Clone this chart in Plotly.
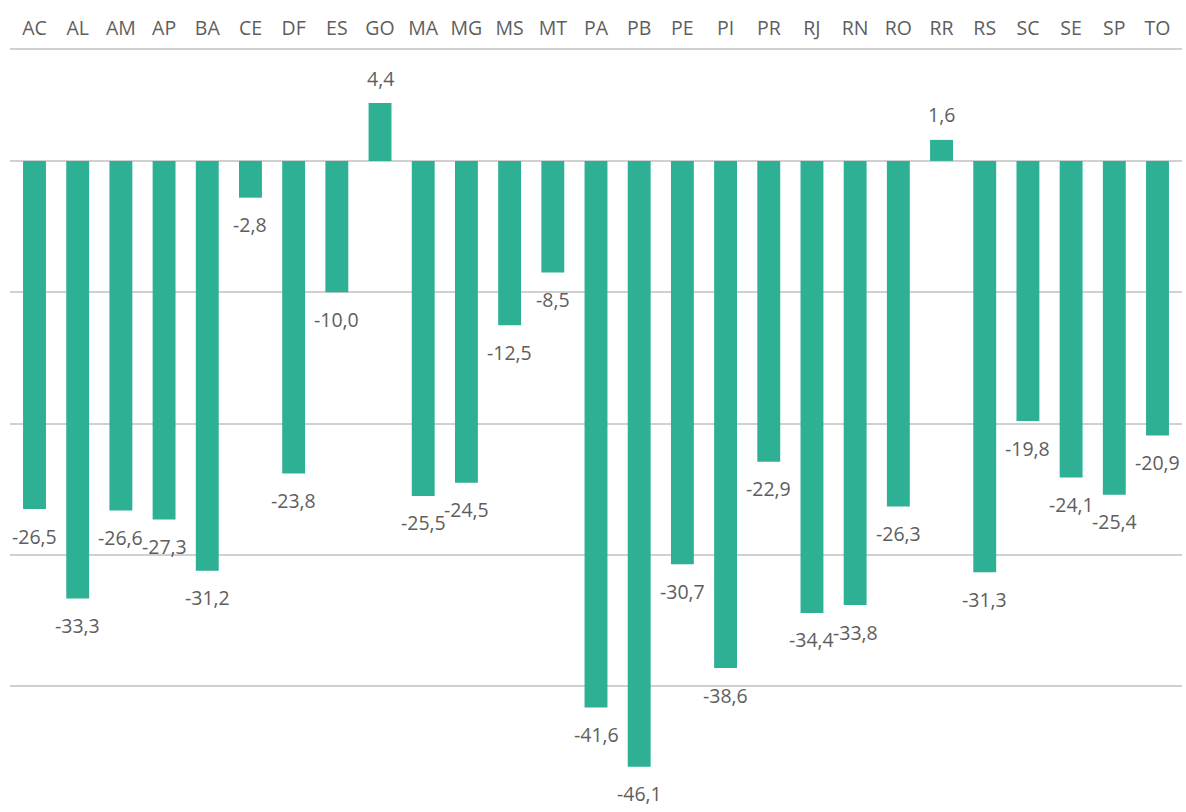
import plotly.graph_objects as go

states = ["AC", "AL", "AM", "AP", "BA", "CE", "DF", "ES", "GO", "MA", "MG", "MS", "MT", "PA",
          "PB", "PE", "PI", "PR", "RJ", "RN", "RO", "RR", "RS", "SC", "SE", "SP", "TO"]
values = [-26.5, -33.3, -26.6, -27.3, -31.2, -2.8, -23.8, -10.0, 4.4, -25.5, -24.5, -12.5, -8.5, -41.6,
          -46.1, -30.7, -38.6, -22.9, -34.4, -33.8, -26.3, 1.6, -31.3, -19.8, -24.1, -25.4, -20.9]

bar_color = "#2EB094"
text_color = "#5E5E5E"
grid_color = "#D0D0D0"
font_family = "'Open Sans', Roboto, 'Noto Sans', sans-serif"

fig = go.Figure()
fig.add_trace(go.Bar(x=states, y=values, marker_color=bar_color, marker_line_width=0, hoverinfo="x+y"))

for s, v in zip(states, values):
    fig.add_annotation(
        x=s, y=v,
        text=f"{v:.1f}".replace(".", ","),
        showarrow=False,
        yshift=25 if v >= 0 else -27,
        font=dict(family=font_family, size=19.5, color=text_color),
    )

fig.update_layout(
    width=1186, height=812,
    margin=dict(l=10, r=4, t=50, b=2),
    plot_bgcolor="white", paper_bgcolor="white",
    bargap=0.47,
    showlegend=False,
    font=dict(family=font_family, size=19.5, color=text_color),
)
fig.update_xaxes(
    side="top", showline=True, linecolor=grid_color, linewidth=1.5,
    showgrid=False, ticks="", ticklabelstandoff=5,
    tickfont=dict(family=font_family, size=19.5, color=text_color),
)
fig.update_yaxes(
    range=[-49.4, 8.44], dtick=10, showgrid=True, gridcolor=grid_color, gridwidth=1.5,
    zeroline=True, zerolinecolor=grid_color, zerolinewidth=1.5,
    showticklabels=False, ticks="",
)

fig.write_html(
    "out.html",
    config={"displayModeBar": False},
    post_script="document.body.style.margin='0';document.body.style.overflow='hidden';",
)
